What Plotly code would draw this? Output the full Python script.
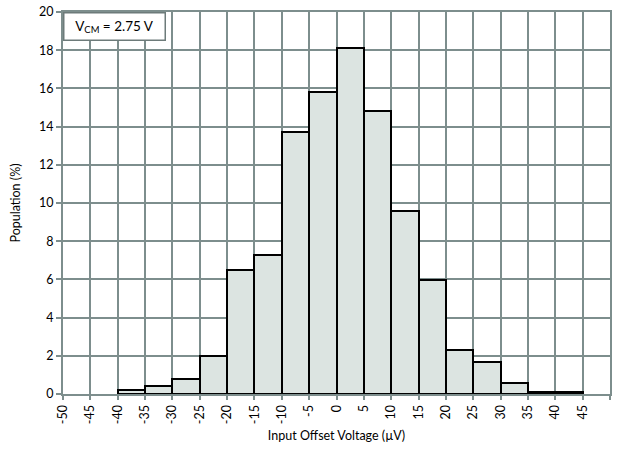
import plotly.graph_objects as go

# Histogram bins (lower edge, µV) and population share (%)
bin_lower = [-40, -35, -30, -25, -20, -15, -10, -5, 0, 5, 10, 15, 20, 25, 30, 35, 40]
population = [0.2, 0.4, 0.8, 2.0, 6.5, 7.3, 13.7, 15.8, 18.1, 14.8, 9.6, 5.95, 2.3, 1.65, 0.6, 0.1, 0.1]
bin_width = 5

x_ticks = list(range(-50, 51, 5))
y_ticks = list(range(0, 21, 2))

grid_color = "#7d8e8d"
font_family = "Lato, 'Open Sans', sans-serif"

centers = [b + bin_width / 2 for b in bin_lower]

fig = go.Figure()
fig.add_trace(go.Bar(
    x=centers,
    y=population,
    width=[bin_width] * len(centers),
    marker=dict(color="#dce4e1", line=dict(color="black", width=2)),
    hoverinfo="x+y",
))

fig.update_layout(
    width=617,
    height=449,
    margin=dict(l=63, r=7, t=12, b=55),
    paper_bgcolor="white",
    plot_bgcolor="white",
    showlegend=False,
    font=dict(family=font_family, size=12, color="black"),
    xaxis=dict(
        range=[-50, 50],
        automargin=False,
        tickmode="array",
        tickvals=x_ticks,
        ticktext=[str(v) for v in x_ticks],
        tickangle=-90,
        showgrid=True,
        gridcolor=grid_color,
        gridwidth=2,
        showline=True,
        linecolor=grid_color,
        linewidth=2,
        mirror=True,
        ticks="outside",
        ticklen=4,
        tickcolor=grid_color,
        tickwidth=2,
        zeroline=False,
        title=dict(text="Input Offset Voltage (µV)", standoff=8, font=dict(size=12.5)),
        tickfont=dict(size=12.5),
    ),
    yaxis=dict(
        range=[0, 20],
        automargin=False,
        tickmode="array",
        tickvals=y_ticks,
        showgrid=True,
        gridcolor=grid_color,
        gridwidth=2,
        showline=True,
        linecolor=grid_color,
        linewidth=2,
        mirror=True,
        ticks="outside",
        ticklen=5,
        tickcolor=grid_color,
        tickwidth=2,
        zeroline=False,
        title=dict(text="Population (%)", standoff=16, font=dict(size=12.5)),
        tickfont=dict(size=12.5),
    ),
    bargap=0,
)

fig.add_annotation(
    xref="paper", yref="paper",
    x=0, y=1,
    xanchor="left", yanchor="top",
    text="V<sub>CM</sub> = 2.75 V",
    showarrow=False,
    font=dict(size=13.5, family=font_family),
    bgcolor="white",
    bordercolor="#6d7b7a",
    borderwidth=1.5,
    borderpad=4,
    width=92,
    align="center",
)

fig.write_html("out.html")
